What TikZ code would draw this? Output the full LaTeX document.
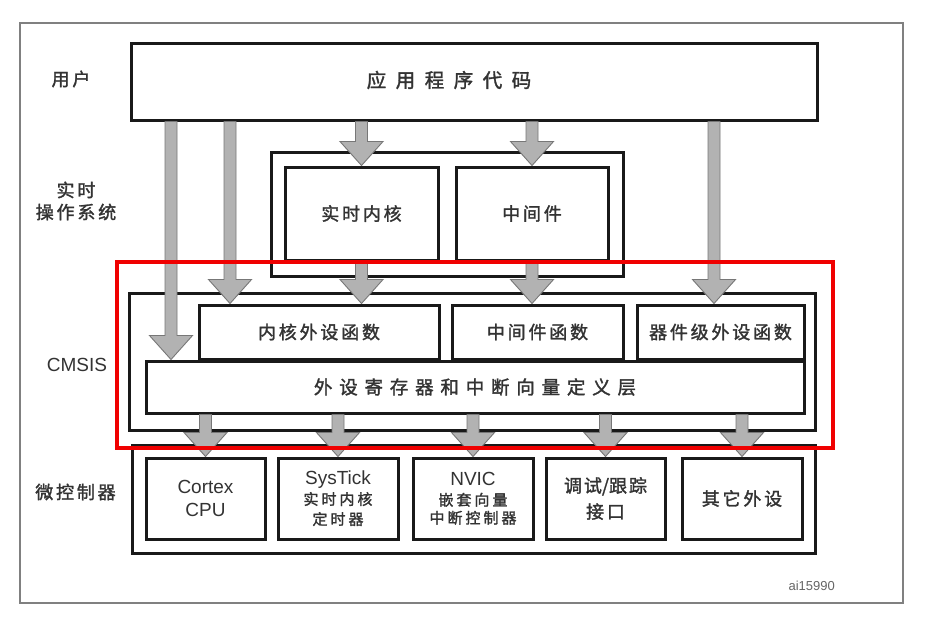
\documentclass[tikz,border=0pt]{standalone}
\usepackage{fontspec}
\setmainfont{Liberation Sans}
\newfontfamily\cjk{Noto Sans CJK SC}[FakeBold=1.6]
\usetikzlibrary{calc}
\definecolor{txt}{HTML}{333333}
\definecolor{arrfill}{HTML}{B2B2B2}
\definecolor{arrline}{HTML}{777777}
\definecolor{framegray}{HTML}{808080}
\definecolor{hlred}{HTML}{F00000}
\makeatletter
\newcommand\spchars[2]{\def\sp@sep{}\@tfor\sp@c:=#2\do{\sp@sep\sp@c\def\sp@sep{\hspace*{#1}}}}
\makeatother
\newcommand\cn[1]{{\cjk\fontsize{18}{22}\selectfont\spchars{2.8pt}{#1}}}
\newcommand\cns[1]{{\cjk\fontsize{15}{18}\selectfont\spchars{3pt}{#1}}}
\newcommand\la[1]{{\fontsize{19}{23}\selectfont #1}}
\newcommand\fatarrow[2]{\filldraw[fatarr] let \p1=(#1), \p2=(#2) in
  (\x2-6pt,\y1) -- (\x2-6pt,\y2+24pt) -- (\x2-21.5pt,\y2+24pt) -- (\x2,\y2)
  -- (\x2+21.5pt,\y2+24pt) -- (\x2+6pt,\y2+24pt) -- (\x2+6pt,\y1) -- cycle;}
\tikzset{
  box/.style={draw=black!90, line width=3pt, fill=white, inner sep=0pt,
    text=txt, align=center, font=\fontsize{19}{23}\selectfont},
  lbl/.style={text=txt, align=center, inner sep=0pt, font=\fontsize{18}{22}\selectfont},
  fatarr/.style={fill=arrfill, draw=arrline, line width=0.9pt, line join=miter},
  frame/.style={draw=framegray, line width=1.5pt, inner sep=0pt},
  hl/.style={draw=hlred, line width=4pt, inner sep=0pt}
}
\begin{document}
\begin{tikzpicture}[x=1pt,y=-1pt]
\useasboundingbox (0,0) rectangle (925,619);
\fill[white] (0,0) rectangle (925,619);
% outer frame
\node[frame, minimum width=883pt, minimum height=580pt] (frame) at (461.5,313) {};
% boxes
\node[box, minimum width=686pt, minimum height=77pt] (app) at (474,81.5) {};
\node[text=txt, inner sep=0pt] (apptxt) at (449,80) {{\cjk\fontsize{19.5}{22}\selectfont\spchars{9.5pt}{应用程序代码}}};
\node[box, minimum width=352pt, minimum height=124pt] (rtos) at (447,214) {};
\node[box, minimum width=153pt, minimum height=93pt] (kern) at (361.5,213.5) {\cn{实时内核}};
\node[box, minimum width=152pt, minimum height=93pt] (mid) at (532,213.5) {\cn{中间件}};
\node[box, minimum width=686pt, minimum height=137pt] (cmsis) at (472,361.5) {};
\node[box, minimum width=240pt, minimum height=54pt] (corefn) at (319,332) {\cn{内核外设函数}};
\node[box, minimum width=171pt, minimum height=54pt] (midfn) at (537.5,332) {\cn{中间件函数}};
\node[box, minimum width=167pt, minimum height=54pt] (devfn) at (720.5,332) {\cn{器件级外设函数}};
\node[box, minimum width=658pt, minimum height=52pt] (reg) at (475,387) {{\cjk\fontsize{18.5}{22}\selectfont\spchars{6.8pt}{外设寄存器和中断向量定义层}}};
\node[box, minimum width=683pt, minimum height=108pt] (mcu) at (473.5,499) {};
\node[box, minimum width=119pt, minimum height=81pt] (cpu) at (205.5,498.5) {\la{Cortex}\\\la{CPU}};
\node[box, minimum width=120pt, minimum height=81pt] (systick) at (338,498.5) {\la{SysTick}\\[-3pt]\cns{实时内核}\\[-3pt]\cns{定时器}};
\node[box, minimum width=120pt, minimum height=81pt] (nvic) at (473,498.5) {\la{NVIC}\\[-3pt]\cns{嵌套向量}\\[-5pt]\cns{中断控制器}};
\node[box, minimum width=119pt, minimum height=81pt] (dbg) at (605.5,498.5) {{\cjk\fontsize{18}{22}\selectfont 调\hspace*{2pt}试/跟\hspace*{2pt}踪}\\[3pt]\cn{接口}};
\node[box, minimum width=120pt, minimum height=81pt] (oth) at (742,498.5) {\cn{其它外设}};
% arrow x positions
\coordinate (ax1) at (171,0);
\coordinate (ax2) at (230,0);
\coordinate (ax7) at (714,0);
% arrows
\fatarrow{app.south -| ax1}{reg.north -| ax1}
\fatarrow{app.south -| ax2}{corefn.north -| ax2}
\fatarrow{app.south -| kern.north}{kern.north}
\fatarrow{app.south -| mid.north}{mid.north}
\fatarrow{kern.south}{corefn.north -| kern.south}
\fatarrow{mid.south}{midfn.north -| mid.south}
\fatarrow{app.south -| ax7}{devfn.north -| ax7}
\fatarrow{reg.south -| cpu.north}{cpu.north}
\fatarrow{reg.south -| systick.north}{systick.north}
\fatarrow{reg.south -| nvic.north}{nvic.north}
\fatarrow{reg.south -| dbg.north}{dbg.north}
\fatarrow{reg.south -| oth.north}{oth.north}
% highlight
\node[hl, minimum width=716pt, minimum height=186pt] (hlbox) at (475,355) {};
% left labels
\node[lbl] (luser) at (71,79) {\cn{用户}};
\node[lbl] (lrtos) at (76,201) {\cn{实时}\\\cn{操作系统}};
\node[lbl, font=\fontsize{19}{23}\selectfont] (lcmsis) at (77,365) {CMSIS};
\node[lbl] (lmcu) at (75.5,492) {\cn{微控制器}};
\node[text=black!60, inner sep=0pt, font=\fontsize{13}{15}\selectfont] (code) at (811.7,586) {ai15990};
\end{tikzpicture}
\end{document}
